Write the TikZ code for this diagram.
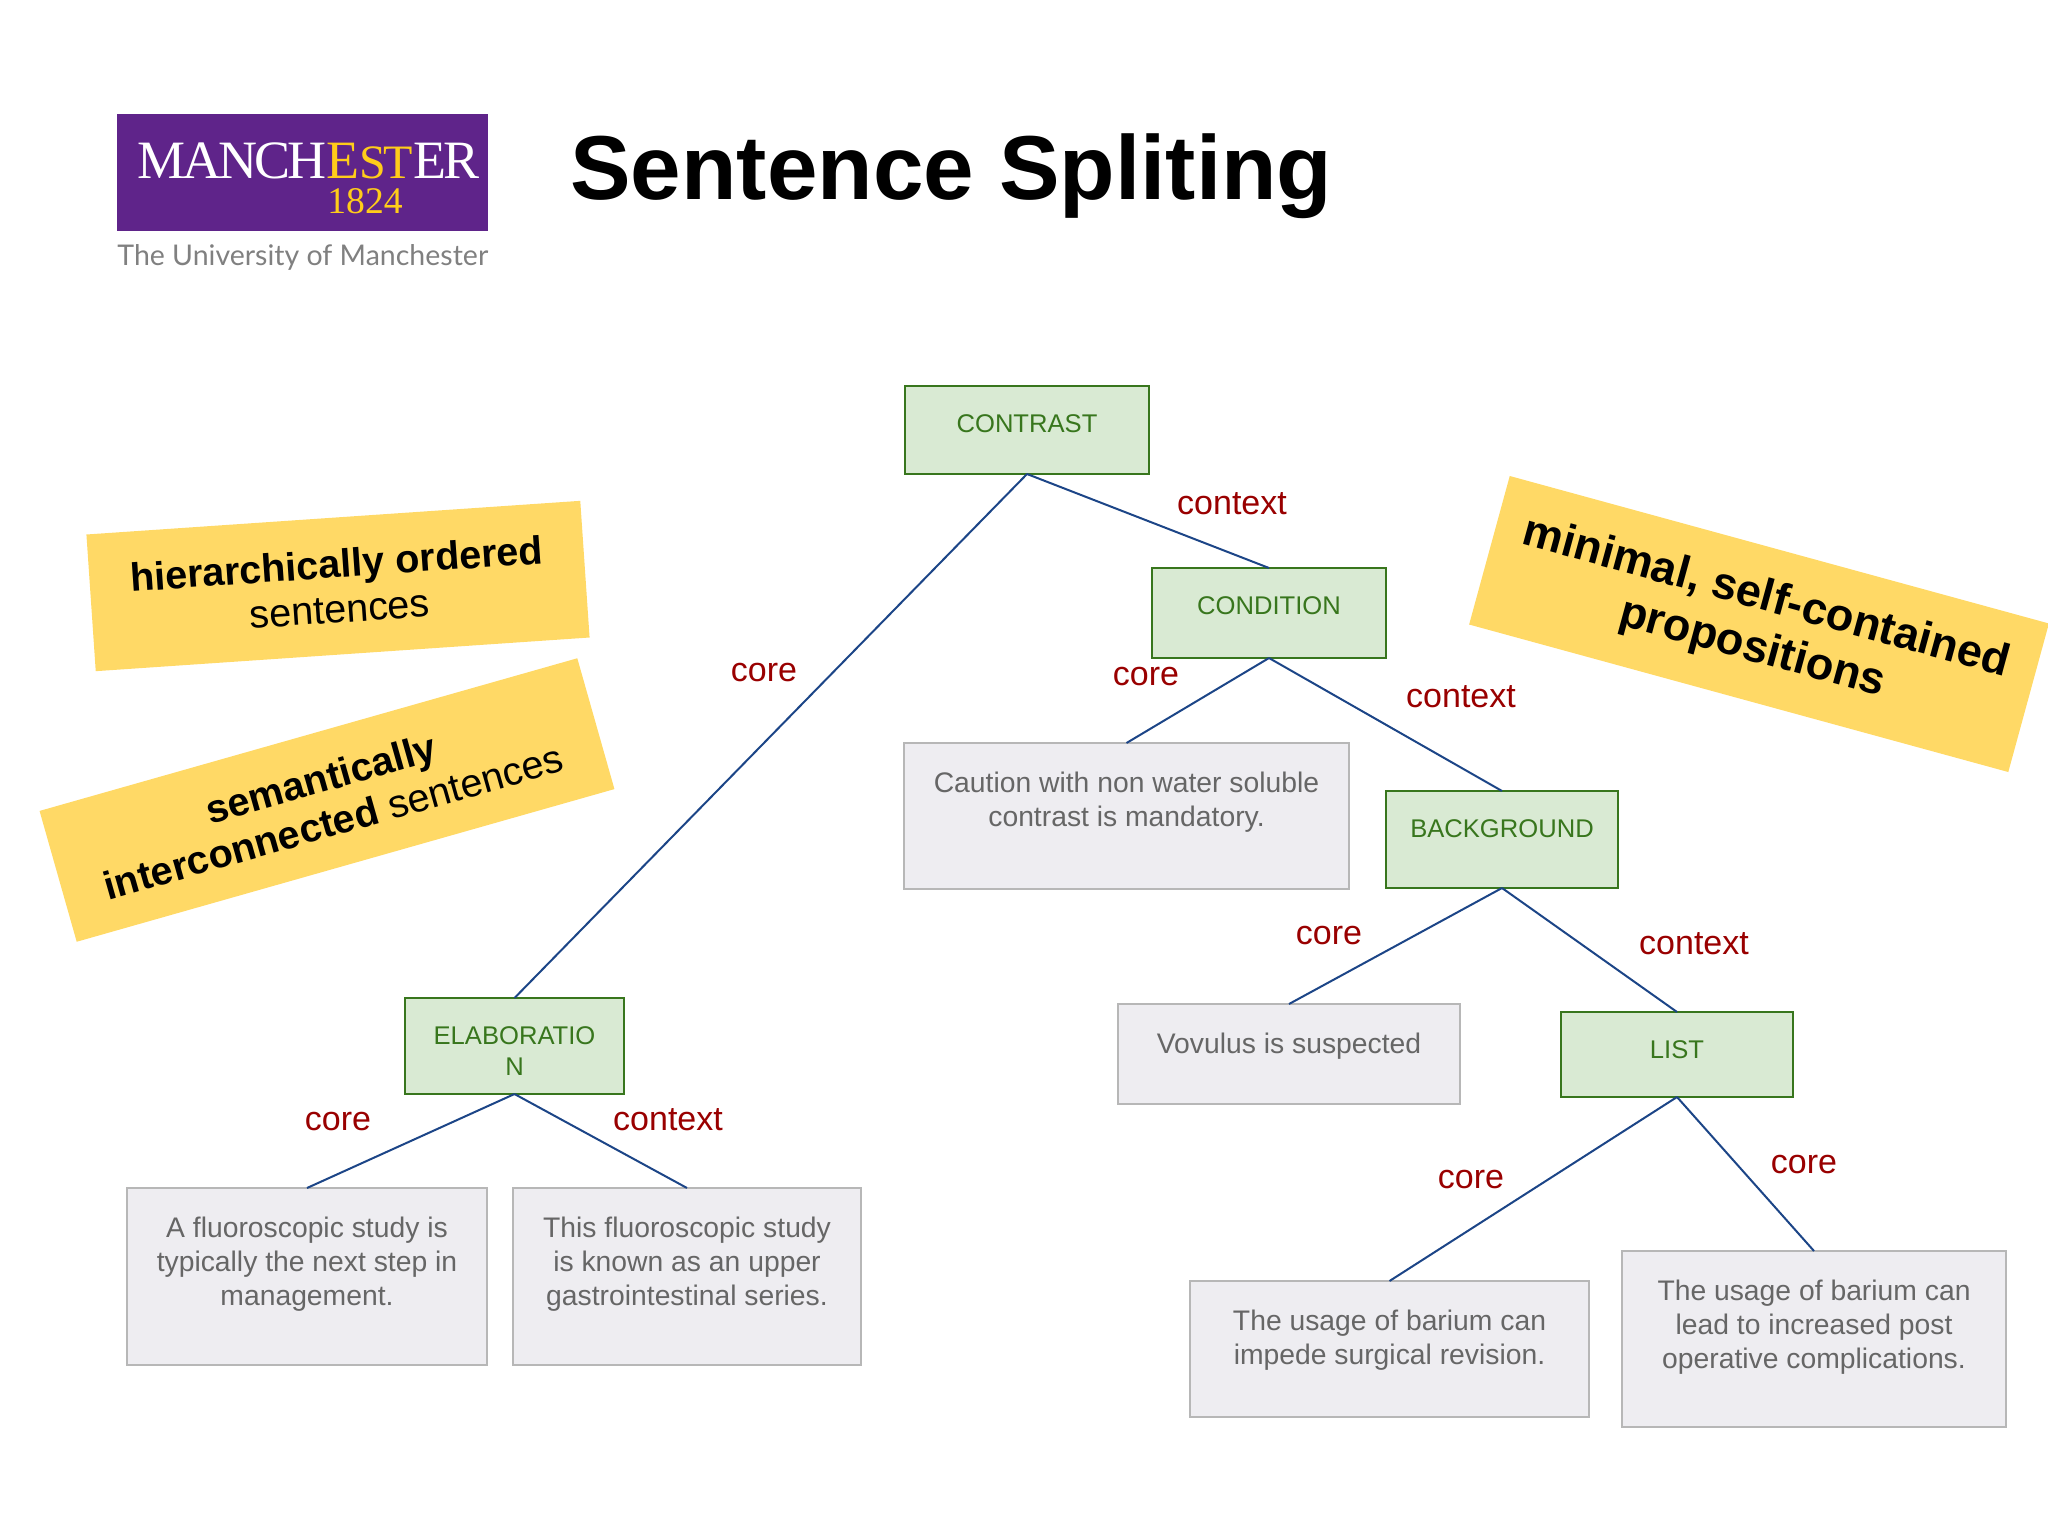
\documentclass[tikz,border=0pt]{standalone}
\usepackage{fontspec}
\setmainfont{Liberation Sans}
\newfontfamily\logoserif[LetterSpace=-5.4]{Liberation Serif}
\newfontfamily\logoyearfont{Liberation Serif}
\newfontfamily\logosans{Lato}
\usetikzlibrary{positioning}
\definecolor{relfill}{HTML}{D9EAD3}
\definecolor{reldraw}{HTML}{38761D}
\definecolor{edufill}{HTML}{EEEDF1}
\definecolor{edudraw}{HTML}{B7B7B7}
\definecolor{edutext}{HTML}{666666}
\definecolor{connblue}{HTML}{1C4587}
\definecolor{labelred}{HTML}{990000}
\definecolor{noteyellow}{HTML}{FFD966}
\definecolor{logopurple}{HTML}{5F248A}
\definecolor{logogold}{HTML}{FFCC1A}
\newcommand{\boxtext}[4]{\parbox[c][#2pt][t]{#1pt}{\centering\rule{0pt}{#3pt}#4}}
\tikzset{
    relbox/.style = {draw=reldraw, fill=relfill, text=reldraw, line width=1pt, inner sep=0pt, outer sep=0pt, anchor=north west, font=\fontsize{12.8}{15.7}\selectfont},
    edubox/.style = {draw=edudraw, fill=edufill, text=edutext, line width=1pt, inner sep=0pt, outer sep=0pt, anchor=north west, font=\fontsize{14.15}{17}\selectfont},
    conn/.style = {draw=connblue, line width=1pt},
    rellabel/.style = {text=labelred, font=\fontsize{17}{20}\selectfont},
    notebox/.style = {fill=noteyellow, align=center, inner sep=0pt, font=\fontsize{19.8}{22.6}\selectfont}
}

\begin{document}
\begin{tikzpicture}[x=0.5pt,y=-0.5pt]
    \useasboundingbox (0,0) rectangle (2048,1536);
    % logo
    \node[fill=logopurple, minimum width=185.5pt, minimum height=58.5pt, inner sep=0pt, anchor=north west] (logo) at (117,114) {};
    \node[text=white, inner sep=0pt, anchor=base west, font=\logoserif\fontsize{27}{27}\selectfont] (logoname) at (137,178) {MANCH\textcolor{logogold}{E{\fontsize{24}{27}\selectfont ST}}ER};
    \node[text=logogold, inner sep=0pt, anchor=base west, font=\logoyearfont\fontsize{18.8}{20}\selectfont] (logoyear) at (327,213) {1824};
    \node[text=black!50, inner sep=0pt, anchor=base west, font=\logosans\fontsize{14.25}{18}\selectfont] (logouni) at (117,265) {The University of Manchester};
    % title
    \node[inner sep=0pt, anchor=base west, font=\fontsize{45.4}{50}\bfseries\selectfont] (title) at (570,199) {Sentence Spliting};
    % yellow notes
    \node[notebox, rotate=3.9, minimum width=247.5pt, minimum height=68.5pt] (note1) at (338,586) {\textbf{hierarchically ordered}\\sentences};
    \node[notebox, rotate=15.85, minimum width=279.5pt, minimum height=68pt] (note2) at (327,800) {\textbf{semantically}\\\textbf{interconnected} sentences};
    \node[notebox, rotate=-15.3, minimum width=279.5pt, minimum height=77pt, font=\fontsize{22.6}{26}\selectfont] (note3) at (1759,624) {\textbf{minimal, self-contained}\\\textbf{propositions}};
    % relations
    \node[relbox] (contrast) at (905,386) {\boxtext{122}{44}{23.2}{CONTRAST}};
    \node[relbox] (condition) at (1152,568) {\boxtext{117}{45}{23.2}{CONDITION}};
    \node[relbox] (background) at (1386,791) {\boxtext{116}{48.5}{23.2}{BACKGROUND}};
    \node[relbox] (elaboration) at (405,998) {\boxtext{109.5}{48}{23.2}{ELABORATIO\\N}};
    \node[relbox] (list) at (1561,1012) {\boxtext{116}{42.5}{23.2}{LIST}};
    % segments
    \node[edubox] (caution) at (904,743) {\boxtext{222.5}{73}{24.5}{Caution with non water soluble\\contrast is mandatory.}};
    \node[edubox] (vovulus) at (1118,1004) {\boxtext{171}{50}{24.5}{Vovulus is suspected}};
    \node[edubox] (study) at (127,1188) {\boxtext{180}{88.5}{24.5}{A fluoroscopic study is\\typically the next step in\\management.}};
    \node[edubox] (series) at (513,1188) {\boxtext{174}{88.5}{24.5}{This fluoroscopic study\\is known as an upper\\gastrointestinal series.}};
    \node[edubox] (impede) at (1190,1281) {\boxtext{199.5}{68}{24.5}{The usage of barium can\\impede surgical revision.}};
    \node[edubox] (postop) at (1622,1251) {\boxtext{192}{88}{24.5}{The usage of barium can\\lead to increased post\\operative complications.}};
    % connectors
    \draw[conn] (contrast.south) -- (elaboration.north);
    \draw[conn] (contrast.south) -- (condition.north);
    \draw[conn] (condition.south) -- (caution.north);
    \draw[conn] (condition.south) -- (background.north);
    \draw[conn] (background.south) -- (vovulus.north);
    \draw[conn] (background.south) -- (list.north);
    \draw[conn] (elaboration.south) -- (study.north);
    \draw[conn] (elaboration.south) -- (series.north);
    \draw[conn] (list.south) -- (impede.north);
    \draw[conn] (list.south) -- (postop.north);
    % labels
    \node[rellabel] (lab1) at (1232,504) {context};
    \node[rellabel] (lab2) at (764,673) {core};
    \node[rellabel] (lab3) at (1146,677) {core};
    \node[rellabel] (lab4) at (1461,697) {context};
    \node[rellabel] (lab5) at (1329,936) {core};
    \node[rellabel] (lab6) at (1694,944) {context};
    \node[rellabel] (lab7) at (338,1122) {core};
    \node[rellabel] (lab8) at (668,1120) {context};
    \node[rellabel] (lab9) at (1471,1180) {core};
    \node[rellabel] (lab10) at (1804,1165) {core};
\end{tikzpicture}
\end{document}
